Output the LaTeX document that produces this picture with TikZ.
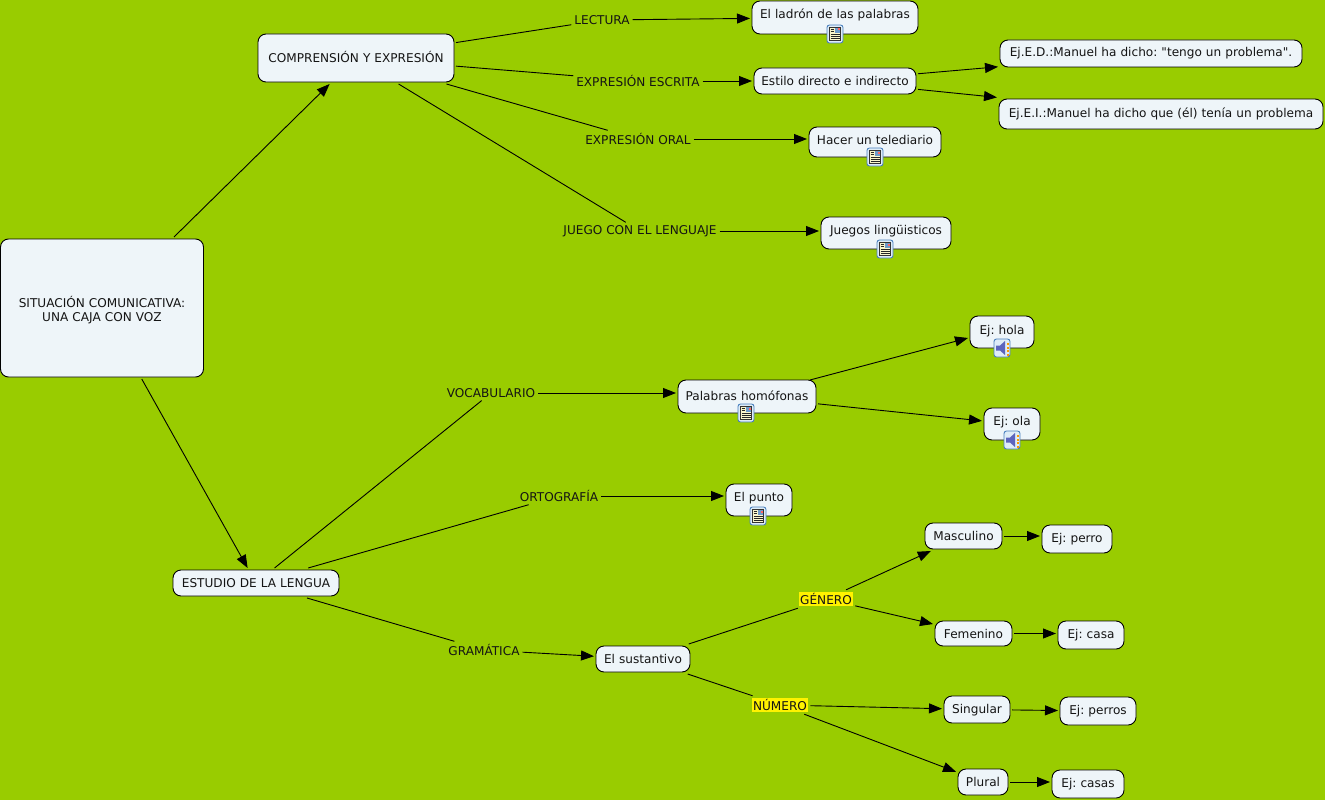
\documentclass[tikz,border=0pt]{standalone}
\usepackage{fontspec}
\setmainfont[Ligatures=TeXOff]{DejaVu Sans}
\usetikzlibrary{arrows.meta}
\frenchspacing
\definecolor{bgc}{RGB}{153,204,0}
\definecolor{boxc}{RGB}{238,245,249}
\definecolor{txtc}{RGB}{20,20,20}
\definecolor{icb}{RGB}{74,128,190}
\definecolor{icl}{RGB}{222,236,247}
\definecolor{icp}{RGB}{250,246,205}
\definecolor{spk}{RGB}{92,100,190}
\tikzset{
  x=1pt,y=-1pt,
  every node/.style={font=\fontsize{12.1}{14}\selectfont\frenchspacing,text=txtc},
  boxn/.style={draw=black,line width=0.9pt,fill=boxc,rounded corners=8pt,inner sep=0pt,outer sep=2pt,align=center},
  lab/.style={inner sep=0pt,outer sep=3pt},
  hl/.style={fill=yellow,inner sep=1pt,outer sep=2.5pt},
  conn/.style={draw=black,line width=0.9pt},
  arr/.style={conn,-{Triangle[length=13pt,width=10pt]}}
}
\newcommand\bx[7]{%
  \pgfmathsetmacro\bxw{#4-#2}\pgfmathsetmacro\bxh{#7-#3}\pgfmathsetmacro\bxd{#5-#7}%
  \pgfmathsetmacro\bxx{(#2+#4)/2}\pgfmathsetmacro\bxy{(#3+#5)/2}%
  \node[boxn,text width=\bxw pt,text height=\bxh pt,text depth=\bxd pt] (#1) at (\bxx,\bxy) {#6};}
\newcommand\docicon[2]{\begin{scope}[shift={(#1,#2)}]
  \draw[icb,fill=icl,line width=0.9pt,rounded corners=2.5pt] (-8,-9) rectangle (8,9);
  \draw[black!80,fill=icp,line width=0.5pt] (-5.5,-6.5) rectangle (5.5,6.5);
  \fill[icb!80] (0,-6) rectangle (5,-1);
  \fill[red!60] (2.5,-5.5) rectangle (4.5,-3.5);
  \foreach \yy/\xx in {-4.5/-1,-2.5/-1,-0.2/4.5,2/4.5,4.2/4.5}{\draw[black!85,line width=0.55pt] (-4.5,\yy) -- (\xx,\yy);}
\end{scope}}
\newcommand\spkicon[2]{\begin{scope}[shift={(#1,#2)}]
  \draw[icb,fill=icl,line width=0.9pt,rounded corners=2.5pt] (-8,-9) rectangle (8,9);
  \fill[spk] (-6,-2.5) -- (-2,-2.5) -- (3,-7) -- (3,7) -- (-2,2.5) -- (-6,2.5) -- cycle;
  \foreach \yy in {-5,-1.5,2,5.5}{\fill[orange!80!yellow] (4.5,\yy) rectangle (6.5,\yy+2);}
\end{scope}}
\begin{document}
\begin{tikzpicture}
\useasboundingbox (0,0) rectangle (1325,800);
\fill[bgc] (0,0) rectangle (1325,800);
% boxes
\node[boxn,text width=203pt,minimum height=138pt] (sit) at (102,308) {\rule{0pt}{16pt}SITUACIÓN COMUNICATIVA:\\[0pt]UNA CAJA CON VOZ};
\bx{comp}{258}{34}{454}{82}{COMPRENSIÓN Y EXPRESIÓN}{63}
\bx{est}{173}{570}{339}{596}{ESTUDIO DE LA LENGUA}{587}
\bx{lad}{752}{1}{918}{34}{El ladrón de las palabras}{19}
\bx{estilo}{754}{68}{916}{94}{Estilo directo e indirecto}{85}
\bx{ed}{1000}{40}{1302}{67}{Ej.E.D.:Manuel ha dicho: "tengo un problema".}{57}
\bx{ei}{999}{99}{1323}{129}{Ej.E.I.:Manuel ha dicho que (él) tenía un problema}{117}
\bx{hacer}{809}{127}{941}{157}{Hacer un telediario}{144}
\bx{juegos}{821}{217}{951}{249}{Juegos lingüisticos}{234}
\bx{hola}{970}{316}{1034}{348}{Ej: hola}{334}
\bx{ola}{984}{408}{1040}{440}{Ej: ola}{425}
\bx{hom}{678}{380}{816}{413}{Palabras homófonas}{400}
\bx{punto}{726}{484}{792}{516}{El punto}{501}
\bx{masc}{925}{523}{1002}{549}{Masculino}{540}
\bx{perro}{1042}{525}{1112}{553}{Ej: perro}{542}
\bx{fem}{935}{621}{1012}{646}{Femenino}{638}
\bx{casa}{1058}{621}{1124}{649}{Ej: casa}{638}
\bx{sing}{944}{696}{1010}{723}{Singular}{713}
\bx{perros}{1060}{697}{1136}{725}{Ej: perros}{714}
\bx{plur}{958}{769}{1008}{795}{Plural}{786}
\bx{casas}{1052}{770}{1124}{798}{Ej: casas}{787}
\bx{sust}{596}{646}{690}{672}{El sustantivo}{663}
% labels
\node[lab] (lect) at (602,20) {LECTURA};
\node[lab] (escr) at (638,81) {EXPRESIÓN ESCRITA};
\node[lab] (oral) at (638,139) {EXPRESIÓN ORAL};
\node[lab] (jue) at (640,231) {JUEGO CON EL LENGUAJE};
\node[lab] (voc) at (491,393) {VOCABULARIO};
\node[lab] (ort) at (559,496) {ORTOGRAFÍA};
\node[lab] (gra) at (484,650) {GRAMÁTICA};
\node[hl] (gen) at (826,599) {GÉNERO};
\node[hl] (num) at (780,705) {NÚMERO};
% connectors
\draw[arr] (sit) -- (comp);
\draw[arr] (sit) -- (est);
\draw[conn] (comp) -- (lect);
\draw[conn] (comp) -- (escr);
\draw[conn] (comp) -- (oral);
\draw[conn] (comp) -- (jue);
\draw[arr] (lect) -- (lad);
\draw[arr] (escr.east) -- (escr.east -| estilo.west);
\draw[arr] (oral.east) -- (oral.east -| hacer.west);
\draw[arr] (jue.east) -- (jue.east -| juegos.west);
\draw[arr] (estilo) -- (ed);
\draw[arr] (estilo) -- (ei);
\draw[conn] (est) -- (voc);
\draw[conn] (est) -- (ort);
\draw[conn] (est) -- (gra);
\draw[arr] (voc.east) -- (voc.east -| hom.west);
\draw[arr] (ort.east) -- (ort.east -| punto.west);
\draw[arr] (gra) -- (sust);
\draw[arr] ([xshift=-8pt,yshift=-2pt]hom.north east) -- ([yshift=-6pt]hola.west);
\draw[arr] (hom) -- (ola);
\draw[conn] (sust) -- (gen);
\draw[conn] (sust) -- (num);
\draw[arr] (gen) -- (masc);
\draw[arr] (gen) -- (fem);
\draw[arr] (num) -- (sing);
\draw[arr] (num) -- (plur);
\draw[arr] (masc.east) -- (masc.east -| perro.west);
\draw[arr] (fem.east) -- (fem.east -| casa.west);
\draw[arr] (sing) -- (perros);
\draw[arr] (plur.east) -- (plur.east -| casas.west);
% icons
\docicon{835}{34}
\docicon{875}{157}
\docicon{885}{249}
\docicon{746}{413}
\docicon{758}{516}
\spkicon{1002}{348}
\spkicon{1012}{440}
\end{tikzpicture}
\end{document}
